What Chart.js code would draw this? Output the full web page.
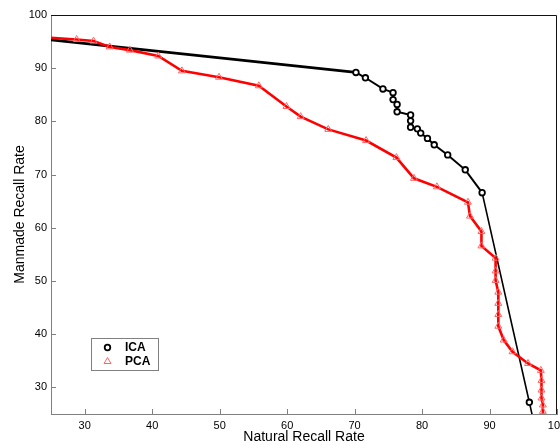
<!DOCTYPE html>
<html>
<head>
<meta charset="utf-8">
<script src="https://cdn.jsdelivr.net/npm/chart.js@4.4.1/dist/chart.umd.min.js"></script>
<style>
  html, body { margin: 0; padding: 0; background: #fff; overflow: hidden; }
  #wrap { width: 580px; height: 460px; }
</style>
</head>
<body>
<div id="wrap"><canvas id="chart" width="580" height="460"></canvas></div>
<script>
// Values
const icaNatural = [0, 70.2, 71.6, 74.2, 75.7, 75.7, 76.3, 76.3, 78.3, 78.3, 78.3, 79.3, 79.8,
                    80.8, 81.8, 83.8, 86.4, 88.9, 95.9, 100];
const icaManmade = [98.7, 89.2, 88.2, 86.1, 85.4, 84.1, 83.2, 81.8, 81.2, 80.1, 78.9, 78.6, 77.8,
                    76.8, 75.6, 73.7, 70.9, 66.6, 27.2, 4];

const pcaNatural = [20, 28.8, 31.3, 33.7, 36.7, 40.9, 44.4, 49.9, 55.8, 59.9, 62.0, 66.1, 71.7,
                    76.2, 78.8, 82.2, 86.8, 87.1, 88.8, 88.8, 90.9, 90.9, 90.9, 91.3, 91.3, 91.3,
                    91.3, 92.1, 93.4, 95.7, 97.6, 97.7, 97.7, 97.7, 97.9, 97.9, 98];
const pcaManmade = [96.1, 95.4, 95.1, 94.0, 93.4, 92.3, 89.5, 88.3, 86.7, 82.8, 80.9, 78.5, 76.4,
                    73.2, 69.3, 67.7, 64.8, 62.2, 59.3, 56.6, 54.3, 51.9, 50.1, 47.9, 45.8, 43.7,
                    41.5, 38.9, 36.7, 34.5, 33.2, 31.3, 29.5, 28.0, 26.7, 25.5, 24];

const xTicks = [30, 40, 50, 60, 70, 80, 90, 100];
const yTicks = [30, 40, 50, 60, 70, 80, 90, 100];

const toPoints = (xs, ys) => xs.map((x, i) => ({ x: x, y: ys[i] }));

const axisGray = '#808080';
const font = 'Liberation Sans, Arial, Helvetica, sans-serif';

// inward tick marks plus the black top/right frame
const frame = {
    id: 'frame',
    afterDraw(chart) {
        const { ctx, chartArea: a, scales } = chart;
        ctx.save();
        ctx.lineWidth = 1;
        ctx.strokeStyle = axisGray;
        ctx.beginPath();
        scales.x.ticks.forEach(t => {
            const px = Math.round(scales.x.getPixelForValue(t.value)) + 0.5;
            ctx.moveTo(px, a.bottom);
            ctx.lineTo(px, a.bottom - 5);
        });
        scales.y.ticks.forEach(t => {
            const py = Math.round(scales.y.getPixelForValue(t.value)) + 0.5;
            ctx.moveTo(a.left, py);
            ctx.lineTo(a.left + 5, py);
        });
        ctx.stroke();
        ctx.strokeStyle = '#111';
        ctx.beginPath();
        ctx.moveTo(a.left, a.top + 0.5);
        ctx.lineTo(a.right - 0.5, a.top + 0.5);
        ctx.lineTo(a.right - 0.5, a.bottom);
        ctx.stroke();
        ctx.restore();
    }
};

// boxed legend inside the plot, lower left
const boxLegend = {
    id: 'boxLegend',
    afterDraw(chart) {
        const ctx = chart.ctx;
        const legendOrder = [1, 0];
        ctx.save();
        ctx.fillStyle = '#fff';
        ctx.fillRect(91.5, 338.5, 67, 32);
        ctx.strokeStyle = axisGray;
        ctx.lineWidth = 1;
        ctx.strokeRect(91.5, 338.5, 67, 32);
        legendOrder.forEach((di, row) => {
            const ds = chart.data.datasets[di];
            const y = 347.5 + row * 14;
            ctx.fillStyle = ds.pointBackgroundColor;
            ctx.strokeStyle = ds.pointBorderColor;
            ctx.lineWidth = ds.pointBorderWidth;
            Chart.helpers.drawPoint(ctx, {
                pointStyle: ds.pointStyle,
                radius: ds.pointRadius,
                rotation: 0,
                borderWidth: ds.pointBorderWidth
            }, 107.5, y);
            ctx.fillStyle = '#000';
            ctx.font = 'bold 12px ' + font;
            ctx.textBaseline = 'middle';
            ctx.fillText(ds.label, 125, y + 0.5);
        });
        ctx.restore();
    }
};

new Chart(document.getElementById('chart'), {
    type: 'line',
    data: {
        datasets: [
            {
                label: 'PCA',
                data: toPoints(pcaNatural, pcaManmade),
                borderColor: '#ff0000',
                borderWidth: 2.6,
                pointStyle: 'triangle',
                pointRadius: 4,
                pointBorderWidth: 1,
                pointBorderColor: '#ff6464',
                pointBackgroundColor: 'rgba(255,255,255,0)',
                tension: 0,
                order: 0
            },
            {
                label: 'ICA',
                data: toPoints(icaNatural, icaManmade),
                borderColor: '#000',
                borderWidth: 2,
                segment: {
                    borderWidth: c => c.p0DataIndex === 0 ? 2.8 : (c.p0DataIndex >= 17 ? 1.6 : 2)
                },
                pointStyle: 'circle',
                pointRadius: 2.8,
                pointBorderWidth: 1.8,
                pointBorderColor: '#000',
                pointBackgroundColor: '#fff',
                tension: 0,
                order: 1
            }
        ]
    },
    options: {
        responsive: false,
        animation: false,
        events: [],
        layout: { padding: { top: 15, right: 23, bottom: 0, left: 0 } },
        plugins: {
            legend: { display: false },
            tooltip: { enabled: false }
        },
        scales: {
            x: {
                type: 'linear',
                min: 25,
                max: 100,
                afterBuildTicks: s => { s.ticks = xTicks.map(v => ({ value: v })); },
                afterFit: s => { s.height = 46; },
                grid: { display: false, drawTicks: false },
                border: { display: true, color: axisGray, width: 1 },
                ticks: { color: '#000', padding: 5, maxRotation: 0, font: { family: font, size: 11 } },
                title: {
                    display: true,
                    text: 'Natural Recall Rate',
                    color: '#000',
                    font: { family: font, size: 14 },
                    padding: { top: 0, bottom: 14.6 }
                }
            },
            y: {
                type: 'linear',
                min: 25,
                max: 100,
                afterBuildTicks: s => { s.ticks = yTicks.map(v => ({ value: v })); },
                afterFit: s => { s.width = 51; },
                grid: { display: false, drawTicks: false },
                border: { display: true, color: axisGray, width: 1 },
                ticks: { color: '#000', padding: 4, font: { family: font, size: 11 } },
                title: {
                    display: true,
                    text: 'Manmade Recall Rate',
                    color: '#000',
                    font: { family: font, size: 14 },
                    padding: { top: 12, bottom: 0 }
                }
            }
        }
    },
    plugins: [frame, boxLegend]
});
</script>
</body>
</html>
